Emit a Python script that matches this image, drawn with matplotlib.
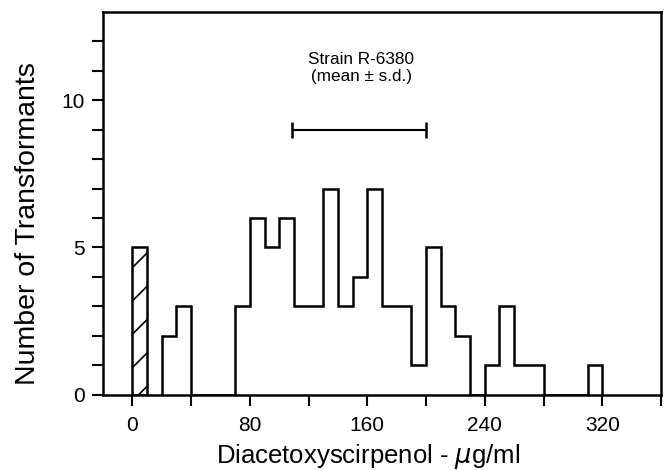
import matplotlib
matplotlib.use("Agg")
import matplotlib.pyplot as plt
import numpy as np

plt.rcParams['font.family'] = ['Liberation Sans', 'DejaVu Sans']
plt.rcParams['hatch.linewidth'] = 1.2

# Data
bin_edges = [20, 30, 40, 50, 60, 70, 80, 90, 100, 110, 120, 130, 140, 150, 160,
             170, 180, 190, 200, 210, 220, 230, 240, 250, 260, 270, 280, 290,
             300, 310, 320]
transformant_counts = [2, 3, 0, 0, 0, 3, 6, 5, 6, 3, 3, 7, 3, 4, 7,
                       3, 3, 1, 5, 3, 2, 0, 1, 3, 1, 1, 0, 0, 0, 1]
control_edges = [0, 10]
control_counts = [5]
strain_mean = 154.5
strain_sd = 45.5
strain_y = 9
x_ticks = [0, 40, 80, 120, 160, 200, 240, 280, 320, 360]
x_tick_labels = ['0', '', '80', '', '160', '', '240', '', '320', '']
y_ticks = list(range(0, 13))
y_tick_labels = ['0', '', '', '', '', '5', '', '', '', '', '10', '', '']

fig = plt.figure(figsize=(6.69, 4.70), dpi=100)
ax = fig.add_axes([0.154, 0.16, 0.834, 0.815])

lw = 1.8
ax.stairs(transformant_counts, bin_edges, baseline=0, fill=False,
          color='black', linewidth=lw)
ax.bar(control_edges[0], control_counts[0], width=control_edges[1] - control_edges[0],
       align='edge', facecolor='white', edgecolor='black', linewidth=lw,
       hatch='/')

ax.errorbar([strain_mean], [strain_y], xerr=[strain_sd], fmt='none',
            ecolor='black', elinewidth=1.5, capsize=6, capthick=1.8)
ax.text(156, 11.22, 'Strain R-6380', ha='center', va='baseline', fontsize=12.3)
ax.text(156, 10.64, '(mean ± s.d.)', ha='center', va='baseline', fontsize=12.3)

ax.set_xlim(-20, 360)
ax.set_ylim(0, 13)
ax.set_xticks(x_ticks)
ax.set_xticklabels(x_tick_labels)
ax.set_yticks(y_ticks)
ax.set_yticklabels(y_tick_labels)
ax.tick_params(axis='both', direction='out', length=8, width=1.5,
               labelsize=15)
ax.tick_params(axis='x', pad=7)
ax.tick_params(axis='y', pad=5)
for sp in ax.spines.values():
    sp.set_linewidth(1.8)

ax.set_xlabel('Diacetoxyscirpenol - $\\mu$g/ml', fontsize=18.5, labelpad=5)
ax.xaxis.label.set_x(0.475)
ax.set_ylabel('Number of Transformants', fontsize=20.5, labelpad=15)
ax.yaxis.label.set_y(0.446)

fig.savefig('out.png', dpi=100)
